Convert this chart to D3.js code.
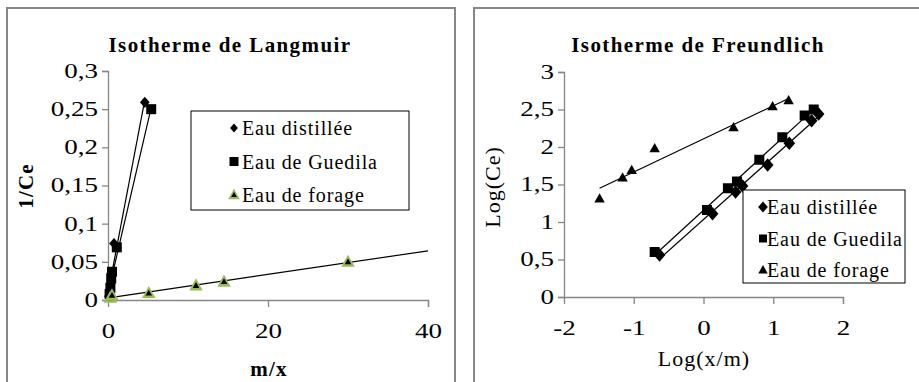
<!DOCTYPE html>
<html>
<head>
<meta charset="utf-8">
<script src="https://cdn.jsdelivr.net/npm/d3@7"></script>
<style>
  body { margin: 0; background: #fff; }
  svg, svg text { font-family: "Liberation Serif", "DejaVu Serif", "Times New Roman", serif !important; }
</style>
</head>
<body>
<svg id="chart" width="919" height="382"></svg>
<script>
// Langmuir: m/x vs 1/Ce
const langDistX = [0.1, 0.2, 0.3, 0.4, 0.75, 4.6]
const langDistY = [0.005, 0.01, 0.02, 0.035, 0.074, 0.259]
const langGuedX = [0.2, 0.3, 0.4, 0.5, 1.1, 5.4]
const langGuedY = [0.008, 0.016, 0.028, 0.037, 0.069, 0.25]
const langForX = [0.3, 0.5, 5.1, 11.0, 14.5, 30.0]
const langForY = [0.003, 0.006, 0.009, 0.019, 0.024, 0.05]
const langXTicks = [0, 20, 40]
const langYTicks = [0, 0.05, 0.1, 0.15, 0.2, 0.25, 0.3]

// Freundlich: Log(x/m) vs Log(Ce)
const frDistX = [-0.63, 0.13, 0.46, 0.56, 0.92, 1.23, 1.55, 1.65]
const frDistY = [0.56, 1.11, 1.4, 1.48, 1.76, 2.05, 2.35, 2.44]
const frGuedX = [-0.7, 0.05, 0.35, 0.48, 0.8, 1.13, 1.45, 1.58]
const frGuedY = [0.6, 1.16, 1.45, 1.54, 1.83, 2.13, 2.42, 2.5]
const frForX = [-1.49, -1.16, -1.03, -0.7, 0.43, 0.99, 1.22]
const frForY = [1.31, 1.59, 1.69, 1.98, 2.26, 2.54, 2.62]
const frXTicks = [-2, -1, 0, 1, 2]
const frYTicks = [0, 0.5, 1, 1.5, 2, 2.5, 3]

const legendNames = ["Eau distillée", "Eau de Guedila", "Eau de forage"]

const svg = d3.select("#chart")
const fmt = d => String(d).replace(".", ",")
const axisGray = "#868686"
const green = "#9bbb59"
const tickStretch = 1.35

// panel frames
svg.append("rect").attr("x", 7).attr("y", 8).attr("width", 448).attr("height", 390)
  .attr("fill", "none").attr("stroke", axisGray).attr("stroke-width", 2)
svg.append("rect").attr("x", 474).attr("y", 8).attr("width", 460).attr("height", 390)
  .attr("fill", "none").attr("stroke", axisGray).attr("stroke-width", 2)

// simple least squares fit
function fit(xs, ys) {
  const mx = d3.mean(xs), my = d3.mean(ys)
  const b = d3.sum(xs, (x, i) => (x - mx) * (ys[i] - my)) / d3.sum(xs, x => (x - mx) * (x - mx))
  return x => my + b * (x - mx)
}

function marker(g, type, cx, cy, s, fill) {
  if (type == "diamond") {
    g.append("path").attr("d", d3.symbol(d3.symbolDiamond2, s * s * 0.6)())
      .attr("transform", `translate(${cx},${cy}) scale(1,1.15)`).attr("fill", "#000")
  } else if (type == "square") {
    g.append("rect").attr("x", cx - s / 2).attr("y", cy - s / 2).attr("width", s).attr("height", s).attr("fill", "#000")
  } else {
    const tri = (r) => `M${cx},${cy - r}L${cx + r * 0.95},${cy + r * 0.7}L${cx - r * 0.95},${cy + r * 0.7}Z`
    if (fill) {
      g.append("path").attr("d", tri(s * 0.62)).attr("fill", fill)
      g.append("path").attr("d", tri(s * 0.3)).attr("fill", "#000")
    } else {
      g.append("path").attr("d", tri(s * 0.55)).attr("fill", "#000")
    }
  }
}

function panel(opt) {
  const x = d3.scaleLinear().domain(opt.xDomain).range(opt.xRange)
  const y = d3.scaleLinear().domain(opt.yDomain).range(opt.yRange)
  const g = svg.append("g")

  // axes
  const yAxis = g.append("g").attr("transform", `translate(${opt.xRange[0]},0)`)
    .call(d3.axisLeft(y).tickValues(opt.yTicks).tickFormat(fmt).tickSizeOuter(0).tickSize(6).tickPadding(4))
  const xAxis = g.append("g").attr("transform", `translate(0,${opt.yRange[0]})`)
    .call(d3.axisBottom(x).tickValues(opt.xTicks).tickFormat(fmt).tickSizeOuter(0).tickSize(7).tickPadding(17))
  ;[xAxis, yAxis].forEach(a => {
    a.attr("font-family", null).attr("font-size", null)
    a.select(".domain").attr("stroke", axisGray).attr("stroke-width", 1.3)
    a.selectAll(".tick line").attr("stroke", axisGray).attr("stroke-width", 1.3)
    // the source picture has wide, stretched digits
    a.selectAll("text").attr("font-size", 20).attr("fill", "#000")
      .attr("x", function() { return (+d3.select(this).attr("x") || 0) / tickStretch })
      .attr("transform", `scale(${tickStretch},1)`)
  })
  xAxis.selectAll(".tick").filter(d => d == opt.xDomain[0]).select("line").remove()
  yAxis.selectAll(".tick").filter(d => d == opt.yDomain[0]).select("line").attr("x2", -6)

  // trend lines then points
  opt.series.forEach(s => {
    const f = fit(s.x, s.y)
    const x0 = d3.min(s.x), x1 = s.trendTo != null ? s.trendTo : d3.max(s.x)
    g.append("line").attr("x1", x(x0)).attr("y1", y(f(x0))).attr("x2", x(x1)).attr("y2", y(f(x1)))
      .attr("stroke", "#000").attr("stroke-width", 1.2)
  })
  opt.series.forEach(s => {
    s.x.forEach((v, i) => marker(g, s.type, x(v), y(s.y[i]), s.size, s.fill))
  })

  // titles
  g.append("text").attr("x", opt.titleX).attr("y", 52).attr("text-anchor", "middle")
    .attr("font-size", 21).attr("font-weight", "bold").attr("letter-spacing", 1.4).text(opt.title)
  g.append("text").attr("transform", `translate(${opt.yLabelX},${opt.yLabelY}) rotate(-90)`)
    .attr("text-anchor", "middle").attr("font-size", opt.labelSize).attr("font-weight", opt.labelWeight)
    .attr("letter-spacing", opt.labelSpacing).text(opt.yLabel)
  g.append("text").attr("x", opt.xLabelX).attr("y", opt.xLabelY).attr("text-anchor", "middle")
    .attr("font-size", opt.labelSize).attr("font-weight", opt.labelWeight)
    .attr("letter-spacing", opt.labelSpacing).text(opt.xLabel)

  // legend
  const L = opt.legend
  g.append("rect").attr("x", L.x).attr("y", L.y).attr("width", L.w).attr("height", L.h)
    .attr("fill", "#fff").attr("stroke", "#000").attr("stroke-width", 1)
  opt.series.forEach((s, i) => {
    const cy = L.y + L.first + i * L.step
    marker(g, s.type, L.x + L.mx, cy, s.legSize, s.fill)
    g.append("text").attr("x", L.x + L.tx).attr("y", cy + 7).attr("font-size", 20)
      .attr("letter-spacing", 0.9).text(legendNames[i])
  })
}

panel({
  xDomain: [0, 40], xRange: [108, 428], yDomain: [0, 0.3], yRange: [300, 71],
  xTicks: langXTicks, yTicks: langYTicks,
  title: "Isotherme de Langmuir", titleX: 230,
  yLabel: "1/Ce", yLabelX: 33, yLabelY: 186,
  xLabel: "m/x", xLabelX: 269, xLabelY: 376, labelSize: 21, labelWeight: "bold", labelSpacing: 1.2,
  series: [
    { x: langDistX, y: langDistY, type: "diamond", size: 10, legSize: 8 },
    { x: langGuedX, y: langGuedY, type: "square", size: 10, legSize: 9 },
    { x: langForX, y: langForY, type: "triangle", size: 11.5, legSize: 10, fill: green, trendTo: 40 }
  ],
  legend: { x: 191, y: 111, w: 218, h: 99, first: 17, step: 33.5, mx: 43, tx: 51 }
})

panel({
  xDomain: [-2, 2], xRange: [564, 843], yDomain: [0, 3], yRange: [297, 72],
  xTicks: frXTicks, yTicks: frYTicks,
  title: "Isotherme de Freundlich", titleX: 698,
  yLabel: "Log(Ce)", yLabelX: 500, yLabelY: 187,
  xLabel: "Log(x/m)", xLabelX: 704, xLabelY: 366, labelSize: 22, labelWeight: "normal", labelSpacing: 1,
  series: [
    { x: frDistX, y: frDistY, type: "diamond", size: 12, legSize: 10 },
    { x: frGuedX, y: frGuedY, type: "square", size: 10, legSize: 8 },
    { x: frForX, y: frForY, type: "triangle", size: 10, legSize: 9 }
  ],
  legend: { x: 743, y: 190, w: 162, h: 93, first: 17, step: 31.5, mx: 20, tx: 24 }
})
</script>
</body>
</html>
